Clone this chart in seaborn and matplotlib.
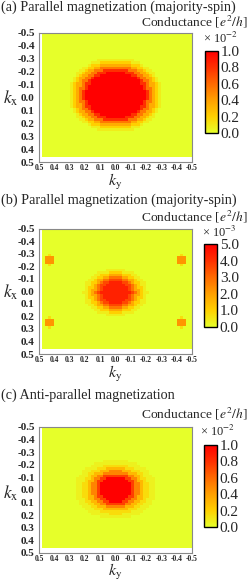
import numpy as np
import pandas as pd
import matplotlib
matplotlib.use("Agg")
import matplotlib.pyplot as plt
import seaborn as sns
from matplotlib.colors import LinearSegmentedColormap

# ---------------- data ----------------
# cell centres of the k-space grid (step 0.02)
ky_centers = np.round(np.arange(0.47, -0.50, -0.02), 2)   # columns, left -> right
kx_centers = np.round(np.arange(-0.49, 0.47, 0.02), 2)    # rows, top -> bottom

ky_ticks = [0.5, 0.4, 0.3, 0.2, 0.1, 0.0, -0.1, -0.2, -0.3, -0.4, -0.5]
ky_ticklabels = ["0.5", "0.4", "0.3", "0.2", "0.1", "0.0", "-0.1", "-0.2", "-0.3", "-0.4", "-0.5"]
kx_ticks = [-0.5, -0.4, -0.3, -0.2, -0.1, 0.0, 0.1, 0.2, 0.3, 0.4, 0.5]
kx_ticklabels = ["-0.5", "-0.4", "-0.3", "-0.2", "-0.1", "0.0", "0.1", "0.2", "0.3", "0.4", "0.5"]

titles = ["(a) Parallel magnetization (majority-spin)",
          "(b) Parallel magnetization (majority-spin)",
          "(c) Anti-parallel magnetization"]
scale_labels = ["× 10$^{-2}$", "× 10$^{-3}$", "× 10$^{-2}$"]

# nested elliptical contour levels (outermost first): level, semi-axis in kx, semi-axis in ky
levels_a = [0.08, 0.2, 0.35, 0.55, 0.8, 1.0]
semi_kx_a = [0.29, 0.27, 0.25, 0.23, 0.205, 0.18]
semi_ky_a = [0.31, 0.29, 0.27, 0.24, 0.215, 0.195]
center_a = (-0.02, 0.0)

levels_b = [0.4, 1.0, 1.8, 2.8, 3.6, 4.3]
semi_kx_b = [0.19, 0.165, 0.145, 0.125, 0.105, 0.09]
semi_ky_b = [0.21, 0.18, 0.155, 0.13, 0.11, 0.09]
center_b = (0.01, 0.0)
spot_kx_b = [-0.25, 0.25]
spot_ky_b = [0.43, -0.43]
spot_value_b = 2.2
spot_fringe_b = 0.7

levels_c = [0.06, 0.15, 0.3, 0.5, 0.75, 1.0]
semi_kx_c = [0.235, 0.2, 0.175, 0.15, 0.125, 0.10]
semi_ky_c = [0.27, 0.22, 0.19, 0.16, 0.13, 0.105]
center_c = (-0.005, 0.0)

vmax_list = [1.0, 5.0, 1.0]
cbar_ticks = [[0.0, 0.2, 0.4, 0.6, 0.8, 1.0],
              [0.0, 1.0, 2.0, 3.0, 4.0, 5.0],
              [0.0, 0.2, 0.4, 0.6, 0.8, 1.0]]
cbar_ticklabels = [["0.0", "0.2", "0.4", "0.6", "0.8", "1.0"],
                   ["0.0", "1.0", "2.0", "3.0", "4.0", "5.0"],
                   ["0.0", "0.2", "0.4", "0.6", "0.8", "1.0"]]


def build_map(levels, semi_kx, semi_ky, center):
    KX, KY = np.meshgrid(kx_centers, ky_centers, indexing="ij")
    Z = np.zeros_like(KX)
    for lev, a, b in zip(levels, semi_kx, semi_ky):
        inside = ((KX - center[0]) / a) ** 2 + ((KY - center[1]) / b) ** 2 <= 1
        Z[inside] = lev
    return Z, KX, KY


Za, _, _ = build_map(levels_a, semi_kx_a, semi_ky_a, center_a)
Zb, KX, KY = build_map(levels_b, semi_kx_b, semi_ky_b, center_b)
for sx in spot_kx_b:
    for sy in spot_ky_b:
        fringe = (np.abs(KX - sx) < 0.045) & (np.abs(KY - sy) < 0.015)
        Zb[fringe] = np.maximum(Zb[fringe], spot_fringe_b)
        spot = (np.abs(KX - sx) < 0.025) & (np.abs(KY - sy) < 0.025)
        Zb[spot] = spot_value_b
Zc, _, _ = build_map(levels_c, semi_kx_c, semi_ky_c, center_c)
maps = [Za, Zb, Zc]

# ---------------- style ----------------
sns.set_style("white")
plt.rcParams["font.family"] = ["Liberation Serif", "DejaVu Serif"]
plt.rcParams["mathtext.fontset"] = "stix"

cmap = LinearSegmentedColormap.from_list(
    "yr", [(0.0, "#e6ff2a"), (0.2, "#ffd000"), (0.4, "#ffa000"),
           (0.6, "#ff6a00"), (0.8, "#ff3000"), (1.0, "#ff0000")])

W, H = 249, 581
fig = plt.figure(figsize=(W / 100, H / 100), dpi=100)


def rect(l, t, r, b):
    return [l / W, 1 - b / H, (r - l) / W, (b - t) / H]


axes_px = [(39, 33, 192, 162), (39, 229, 192, 354), (39, 427, 192, 553)]
cbar_px = [(205, 51, 218, 133), (204, 244, 217, 327), (204, 445, 217, 527)]
title_y = [7, 200, 395]
cond_y = [22, 217, 414]
scale_pos = [(221, 38), (219, 232), (218, 431)]
kx_lab_y = [98, 292, 493]
ky_lab_y = [182, 374, 572]

for p in range(3):
    ax = fig.add_axes(rect(*axes_px[p]))
    cax = fig.add_axes(rect(*cbar_px[p]))
    df = pd.DataFrame(maps[p], index=kx_centers, columns=ky_centers)
    sns.heatmap(df, ax=ax, cbar_ax=cax, cmap=cmap, vmin=0, vmax=vmax_list[p],
                xticklabels=False, yticklabels=False)
    ax.set_xlim(-1, len(ky_centers))
    ax.set_ylim(50, 0)
    ax.set_xticks([(0.48 - t) / 0.02 for t in ky_ticks])
    ax.set_xticklabels(ky_ticklabels, fontsize=5.5, fontweight="bold")
    ax.set_yticks([(t + 0.5) / 0.02 for t in kx_ticks])
    ax.set_yticklabels(kx_ticklabels, fontsize=8, fontweight="bold")
    ax.tick_params(axis="x", direction="in", length=2, width=0.6, color="#666", pad=1.5)
    ax.tick_params(axis="y", direction="in", length=2, width=0.6, color="#666", pad=3)
    for s in ax.spines.values():
        s.set_visible(True)
        s.set_color("#888888")
        s.set_linewidth(0.8)
    ax.set_xlabel("")
    ax.set_ylabel("")

    cb = ax.collections[0].colorbar
    cb.set_ticks(cbar_ticks[p])
    cb.set_ticklabels(cbar_ticklabels[p])
    cb.outline.set_visible(True)
    cb.outline.set_edgecolor("black")
    cb.outline.set_linewidth(1.0)
    cax.tick_params(labelsize=11, direction="in", length=2, width=0.6, pad=2)

    fig.text(1 / W, 1 - title_y[p] / H, titles[p], fontsize=10.2, ha="left", va="center")
    fig.text(248 / W, 1 - cond_y[p] / H, "Conductance [$e^2/h$]", fontsize=9.7,
             ha="right", va="center")
    fig.text(scale_pos[p][0] / W, 1 - scale_pos[p][1] / H, scale_labels[p], fontsize=9,
             ha="center", va="center")
    fig.text(11 / W, 1 - kx_lab_y[p] / H, r"$k_\mathrm{x}$", fontsize=12.5, ha="center", va="center")
    fig.text(115 / W, 1 - ky_lab_y[p] / H, r"$k_\mathrm{y}$", fontsize=11.5, ha="center", va="center")

fig.savefig("out.png", dpi=100, facecolor="white")
